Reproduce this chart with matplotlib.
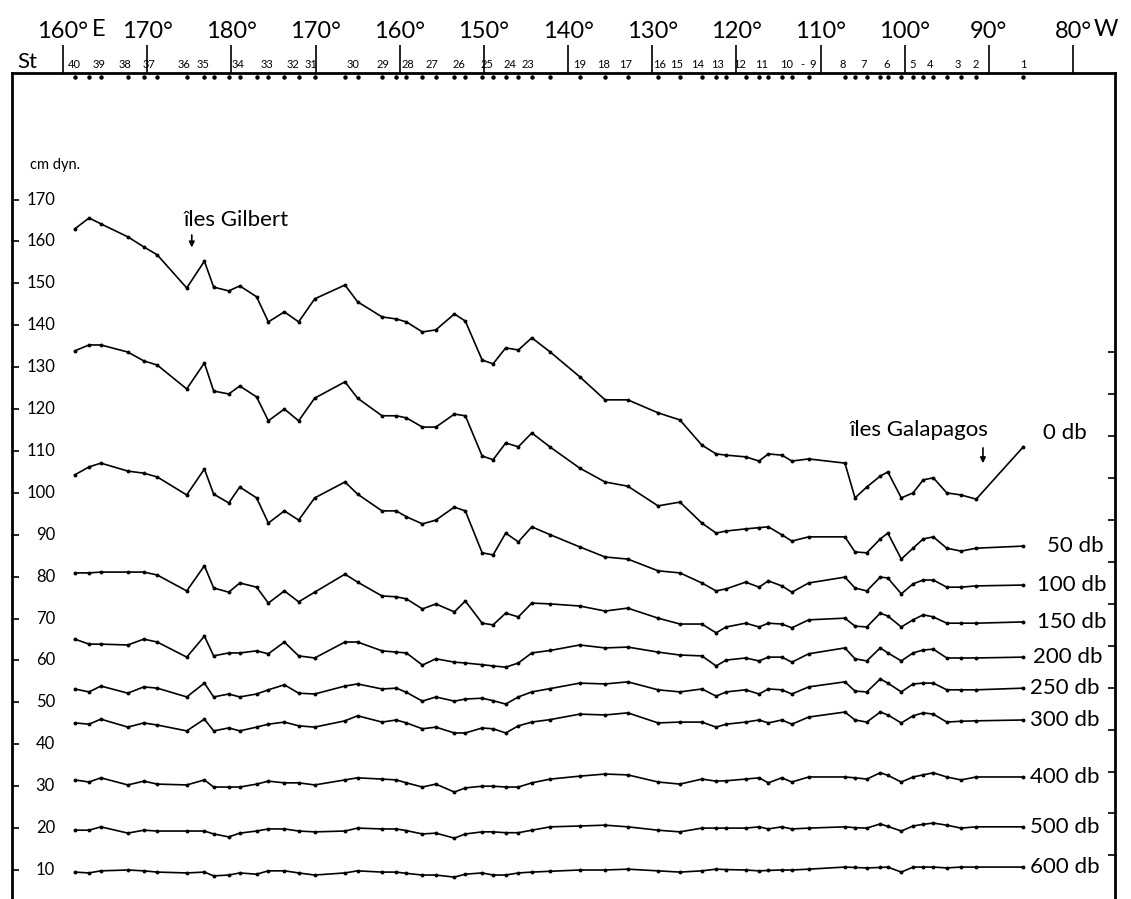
import numpy as np
import matplotlib
matplotlib.use('Agg')
import matplotlib.pyplot as plt
from matplotlib import transforms

plt.rcParams['font.family'] = ['Lato', 'DejaVu Sans']

# station longitudes (degrees east, 180 = date line, 280 = 80 W)
station_lon = [161.4, 163.1, 164.5, 167.7, 169.6, 171.2, 174.7, 176.8, 177.9, 179.7,
               181.0, 183.0, 184.4, 186.3, 188.0, 189.9, 193.5, 195.0, 197.9, 199.6,
               200.8, 202.7, 204.3, 206.5, 207.8, 209.8, 211.1, 212.6, 214.1, 215.7,
               217.9, 221.4, 224.4, 227.1, 230.7, 233.3, 235.9, 237.6, 238.8, 241.1,
               242.7, 243.8, 245.4, 246.6, 248.6, 252.9, 254.1, 255.5, 257.1, 258.0,
               259.6, 261.0, 262.2, 263.4, 265.0, 266.7, 268.5, 274.1]

# dynamic height (cm dyn.) per level
cm_0 = [163.0, 165.6, 164.2, 161.1, 158.7, 156.8, 148.9, 155.3, 149.1, 148.2,
        149.4, 146.8, 140.8, 143.2, 140.8, 146.3, 149.6, 145.6, 142.0, 141.5,
        140.8, 138.4, 138.9, 142.7, 141.0, 131.7, 130.8, 134.6, 134.1, 137.0,
        133.6, 127.7, 122.2, 122.2, 119.1, 117.4, 111.4, 109.3, 109.0, 108.6,
        107.6, 109.3, 109.0, 107.6, 108.1, 107.1, 98.8, 101.4, 104.0, 105.0,
        98.8, 100.0, 103.1, 103.6, 100.0, 99.5, 98.5, 111.0]
cm_50 = [133.9, 135.3, 135.3, 133.6, 131.5, 130.5, 124.8, 131.0, 124.3, 123.6,
         125.5, 122.9, 117.2, 120.0, 117.2, 122.6, 126.5, 122.6, 118.4, 118.4,
         117.9, 115.7, 115.7, 118.8, 118.4, 108.8, 107.9, 111.9, 111.0, 114.3,
         110.9, 105.9, 102.6, 101.6, 96.9, 97.8, 92.8, 90.4, 90.9, 91.4,
         91.7, 91.9, 90.0, 88.5, 89.5, 89.5, 85.9, 85.7, 89.0, 90.4,
         84.2, 86.8, 89.0, 89.5, 86.8, 86.1, 86.8, 87.3]
cm_100 = [104.3, 106.2, 107.1, 105.2, 104.7, 103.8, 99.5, 105.7, 99.7, 97.6,
          101.4, 98.8, 92.8, 95.7, 93.5, 98.8, 102.6, 99.7, 95.7, 95.7,
          94.3, 92.6, 93.5, 96.6, 95.7, 85.7, 85.2, 90.4, 88.3, 91.9,
          90.0, 87.1, 84.7, 84.2, 81.4, 80.9, 78.5, 76.6, 77.1, 78.7,
          77.5, 79.0, 77.8, 76.3, 78.5, 79.9, 77.3, 76.6, 79.9, 79.7,
          75.9, 78.3, 79.2, 79.2, 77.5, 77.5, 77.8, 78.0]
cm_150 = [80.9, 80.9, 81.1, 81.1, 81.1, 80.4, 76.6, 82.6, 77.3, 76.3,
          78.5, 77.5, 73.7, 76.6, 74.0, 76.3, 80.6, 78.7, 75.4, 75.2,
          74.7, 72.3, 73.5, 71.6, 74.2, 68.9, 68.5, 71.3, 70.4, 73.7,
          73.5, 73.0, 71.8, 72.5, 70.1, 68.7, 68.7, 66.6, 68.0, 68.9,
          68.0, 68.9, 68.7, 67.8, 69.7, 70.1, 68.2, 68.0, 71.3, 70.6,
          68.0, 69.7, 70.9, 70.4, 68.9, 68.9, 68.9, 69.2]
cm_200 = [65.1, 63.9, 63.9, 63.7, 65.1, 64.4, 60.8, 65.8, 61.1, 61.8,
          61.8, 62.3, 61.6, 64.4, 61.1, 60.6, 64.4, 64.4, 62.3, 62.0,
          61.8, 58.9, 60.4, 59.6, 59.4, 59.0, 58.7, 58.4, 59.4, 61.8,
          62.4, 63.7, 63.0, 63.2, 62.0, 61.3, 61.1, 58.7, 60.1, 60.6,
          59.9, 60.8, 60.8, 59.6, 61.6, 63.0, 60.4, 59.9, 63.0, 61.8,
          59.9, 61.8, 62.5, 62.7, 60.6, 60.6, 60.6, 60.8]
cm_250 = [53.2, 52.5, 53.9, 52.2, 53.7, 53.4, 51.3, 54.6, 51.3, 52.0,
          51.3, 52.0, 53.0, 54.2, 52.2, 52.0, 53.9, 54.4, 53.2, 53.4,
          52.4, 50.3, 51.3, 50.3, 50.8, 51.0, 50.4, 49.6, 51.3, 52.5,
          53.3, 54.6, 54.4, 54.9, 53.0, 52.5, 53.2, 51.5, 52.5, 53.0,
          52.0, 53.2, 53.0, 52.0, 53.7, 54.9, 52.7, 52.5, 55.6, 54.6,
          52.5, 54.4, 54.6, 54.6, 53.0, 53.0, 53.0, 53.4]
cm_300 = [45.1, 44.8, 46.0, 44.1, 45.1, 44.6, 43.2, 46.0, 43.2, 43.9,
          43.2, 44.1, 44.8, 45.3, 44.4, 44.1, 45.6, 46.8, 45.3, 45.8,
          45.1, 43.7, 44.1, 42.7, 42.7, 43.9, 43.7, 42.7, 44.4, 45.3,
          45.9, 47.2, 47.0, 47.5, 45.1, 45.3, 45.3, 44.1, 44.8, 45.3,
          45.8, 45.1, 45.8, 44.8, 46.5, 47.7, 45.8, 45.3, 47.7, 47.0,
          45.1, 46.8, 47.5, 47.2, 45.3, 45.5, 45.6, 45.8]
cm_400 = [31.5, 31.0, 32.0, 30.3, 31.2, 30.5, 30.3, 31.5, 29.8, 29.8,
          29.8, 30.5, 31.2, 30.8, 30.8, 30.3, 31.5, 32.0, 31.7, 31.5,
          30.8, 29.8, 30.5, 28.6, 29.6, 30.0, 30.0, 29.8, 29.8, 30.8,
          31.7, 32.4, 32.9, 32.7, 31.0, 30.5, 31.7, 31.2, 31.3, 31.7,
          32.0, 30.8, 32.0, 31.0, 32.2, 32.2, 32.0, 31.7, 33.2, 32.6,
          31.0, 32.2, 32.7, 33.2, 32.2, 31.5, 32.2, 32.2]
cm_500 = [19.5, 19.5, 20.3, 18.8, 19.5, 19.3, 19.3, 19.3, 18.6, 17.9,
          18.8, 19.3, 19.8, 19.8, 19.3, 19.1, 19.3, 20.0, 19.8, 19.8,
          19.4, 18.6, 18.8, 17.6, 18.6, 19.1, 19.1, 18.9, 18.9, 19.5,
          20.3, 20.5, 20.7, 20.3, 19.5, 19.1, 20.0, 20.0, 20.0, 20.0,
          20.3, 19.8, 20.3, 19.8, 20.0, 20.3, 20.1, 20.0, 21.0, 20.4,
          19.3, 20.5, 20.9, 21.2, 20.7, 20.0, 20.3, 20.3]
cm_600 = [9.5, 9.3, 9.8, 10.0, 9.8, 9.5, 9.3, 9.5, 8.6, 8.8,
          9.3, 9.0, 9.8, 9.8, 9.3, 8.8, 9.3, 9.8, 9.5, 9.5,
          9.2, 8.8, 8.8, 8.3, 9.0, 9.3, 8.8, 8.8, 9.3, 9.5,
          9.7, 10.0, 10.0, 10.2, 9.8, 9.5, 9.8, 10.2, 10.1, 10.0,
          9.8, 9.9, 10.0, 10.0, 10.2, 10.7, 10.6, 10.5, 10.6, 10.7,
          9.5, 10.7, 10.7, 10.7, 10.5, 10.7, 10.7, 10.7]

levels = ['0 db', '50 db', '100 db', '150 db', '200 db',
          '250 db', '300 db', '400 db', '500 db', '600 db']
series = [cm_0, cm_50, cm_100, cm_150, cm_200, cm_250, cm_300, cm_400, cm_500, cm_600]
# label offsets from line end (pixels)
label_dx = [20, 24, 14, 14, 10, 7, 7, 7, 7, 7]
label_dy = [14, 0, 0, 0, 0, 0, 0, 0, 0, 0]

# station numbers along the top
st_names = ['40', '39', '38', '37', '36', '35', '34', '33', '32', '31', '30', '29', '28',
            '27', '26', '25', '24', '23', '19', '18', '17', '16', '15', '14', '13', '12',
            '11', '10', '-', '9', '8', '7', '6', '5', '4', '3', '2', '1']
st_name_lon = [161.3, 164.3, 167.4, 170.2, 174.4, 176.6, 180.8, 184.2, 187.3, 189.5,
               194.5, 198.0, 201.0, 203.8, 207.0, 210.4, 213.1, 215.2, 221.4, 224.2,
               226.8, 230.9, 232.9, 235.4, 237.8, 240.4, 243.0, 246.0, 247.8, 249.1,
               252.6, 255.1, 257.9, 260.9, 263.0, 266.3, 268.4, 274.1]

lon_ticks = [160, 170, 180, 190, 200, 210, 220, 230, 240, 250, 260, 270, 280]
lon_labels = ['160°', '170°', '180°', '170°', '160°', '150°', '140°',
              '130°', '120°', '110°', '100°', '90°', '80°']
y_ticks = [10, 20, 30, 40, 50, 60, 70, 80, 90, 100, 110, 120, 130, 140, 150, 160, 170]
right_ticks = [13.5, 23.5, 33.5, 43.5, 53.5, 63.5, 73.5, 83.5, 93.5, 103.5, 113.5, 123.5, 133.5]

W, H = 1131, 899
fig = plt.figure(figsize=(W / 100, H / 100), dpi=100)
ax = fig.add_axes([12 / W, 0, 1103 / W, (H - 73) / H])
ax.set_xlim(153.94, 284.99)
ax.set_ylim(3.08, 200.2)

for vals in series:
    ax.plot(station_lon, vals, color='black', lw=1.2, marker='o', ms=1.8,
            mfc='black', mec='black')

for name, vals, dx, dy in zip(levels, series, label_dx, label_dy):
    ax.annotate(name, xy=(station_lon[-1], vals[-1]), xytext=(dx * 0.72, dy * 0.72),
                textcoords='offset points', ha='left', va='center', fontsize=16)

# spines
for s in ['left', 'right', 'top']:
    ax.spines[s].set_linewidth(2)
ax.spines['bottom'].set_visible(False)

# left ticks, labels inside
ax.set_yticks(y_ticks)
ax.set_yticklabels([])
ax.tick_params(axis='y', direction='in', length=5, width=1.2, left=True, right=False)
ytr = transforms.blended_transform_factory(ax.transAxes, ax.transData)
for v in y_ticks:
    ax.text(0.039, v, str(v), transform=ytr, ha='right', va='center', fontsize=12)
ax.text(156.1, 178.3, 'cm dyn.', fontsize=10.5, ha='left', va='center')

# right side short ticks
axr = ax.twinx()
axr.set_ylim(ax.get_ylim())
axr.set_yticks(right_ticks)
axr.set_yticklabels([])
axr.tick_params(axis='y', direction='in', length=5, width=1.2)
for s in axr.spines.values():
    s.set_visible(False)

# top longitude axis
ax.xaxis.set_ticks_position('top')
ax.set_xticks(lon_ticks)
ax.set_xticklabels(lon_labels)
ax.tick_params(axis='x', direction='out', length=20, width=1.2, pad=2, labelsize=17,
               top=True, bottom=False)
tlen = 22 + 2
ax.annotate('E', xy=(164.2, 1), xycoords=('data', 'axes fraction'), xytext=(0, tlen),
            textcoords='offset points', ha='center', va='bottom', fontsize=17)
ax.annotate('W', xy=(283.9, 1), xycoords=('data', 'axes fraction'), xytext=(0, tlen),
            textcoords='offset points', ha='center', va='bottom', fontsize=17)
ax.annotate('St', xy=(154.6, 1), xycoords=('data', 'axes fraction'), xytext=(0, 1),
            textcoords='offset points', ha='left', va='bottom', fontsize=16)

# station numbers and station dots
for name, lon in zip(st_names, st_name_lon):
    ax.annotate(name, xy=(lon, 1), xycoords=('data', 'axes fraction'), xytext=(0, 2),
                textcoords='offset points', ha='center', va='bottom', fontsize=8)
xtr = transforms.blended_transform_factory(ax.transData, ax.transAxes)
ax.plot(station_lon, [0.995] * len(station_lon), transform=xtr, ls='none',
        marker='o', ms=2.2, color='black', clip_on=False)

# island annotations
ax.text(174.3, 165.1, 'îles Gilbert', fontsize=16, ha='left', va='center')
ax.annotate('', xy=(175.3, 157.9), xytext=(175.3, 162.2),
            arrowprops=dict(arrowstyle='-|>', color='black', lw=1.2, mutation_scale=8))
ax.text(253.5, 115.0, 'îles Galapagos', fontsize=16, ha='left', va='center')
ax.annotate('', xy=(269.3, 106.4), xytext=(269.3, 111.4),
            arrowprops=dict(arrowstyle='-|>', color='black', lw=1.2, mutation_scale=8))

fig.savefig('out.png', dpi=100)
